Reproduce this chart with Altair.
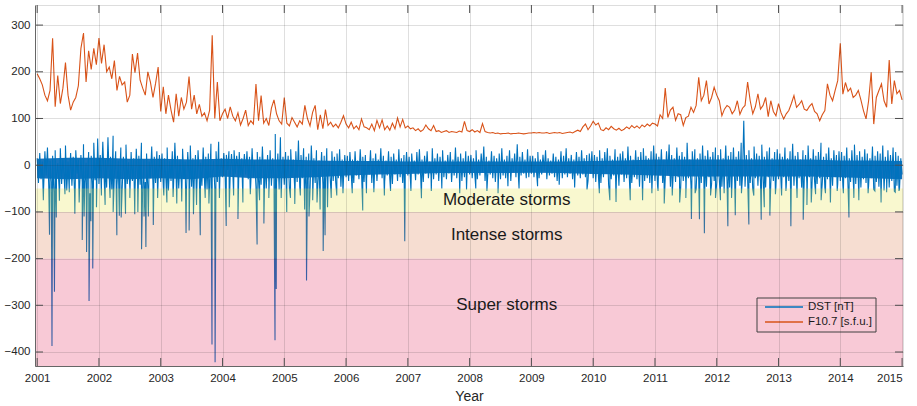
import altair as alt
import pandas as pd

# ---------------- data ----------------
years = list(range(2001, 2015))
year_ticks = list(range(2001, 2016))
y_ticks = [-400, -300, -200, -100, 0, 100, 200, 300]

# F10.7 solar flux, 24 samples per year
f107_2001 = [196, 185, 172, 150, 138, 160, 272, 125, 192, 132, 165, 220, 150, 118, 135, 145, 170, 250, 283, 178, 245, 205, 250, 215]
f107_2002 = [272, 218, 258, 200, 210, 185, 224, 160, 190, 172, 178, 135, 150, 238, 198, 240, 182, 165, 150, 200, 178, 145, 175, 210]
f107_2003 = [115, 168, 110, 150, 118, 92, 153, 105, 145, 120, 135, 190, 120, 150, 110, 130, 105, 112, 95, 118, 278, 100, 178, 95]
f107_2004 = [110, 120, 100, 125, 105, 95, 112, 86, 100, 118, 85, 95, 88, 174, 95, 149, 90, 100, 85, 122, 140, 110, 95, 88]
f107_2005 = [145, 90, 84, 102, 92, 82, 95, 88, 128, 100, 84, 113, 128, 76, 108, 78, 119, 85, 92, 82, 88, 80, 92, 106]
f107_2006 = [88, 80, 92, 78, 84, 76, 99, 82, 80, 76, 88, 74, 96, 80, 97, 76, 84, 75, 90, 78, 101, 82, 98, 80]
f107_2007 = [84, 78, 80, 74, 78, 72, 76, 86, 78, 74, 85, 72, 74, 70, 72, 74, 70, 72, 71, 70, 73, 71, 94, 74]
f107_2008 = [72, 76, 71, 74, 70, 89, 72, 70, 69, 70, 68, 69, 67, 68, 68, 69, 67, 68, 68, 69, 68, 67, 68, 69]
f107_2009 = [69, 70, 69, 70, 69, 69, 70, 68, 69, 70, 69, 70, 68, 69, 70, 71, 69, 72, 75, 72, 82, 88, 76, 84]
f107_2010 = [94, 86, 90, 76, 74, 80, 76, 83, 78, 75, 79, 74, 77, 82, 78, 85, 80, 84, 79, 86, 82, 88, 84, 90]
f107_2011 = [88, 84, 108, 100, 165, 102, 118, 124, 96, 110, 108, 85, 102, 105, 124, 113, 128, 188, 138, 150, 181, 131, 145, 167]
f107_2012 = [150, 138, 106, 120, 128, 124, 110, 118, 138, 109, 122, 128, 178, 138, 110, 125, 153, 120, 128, 145, 104, 138, 115, 106]
f107_2013 = [132, 112, 99, 110, 117, 132, 149, 124, 130, 138, 120, 117, 126, 132, 115, 110, 95, 108, 117, 174, 150, 138, 160, 181]
f107_2014 = [261, 152, 177, 158, 165, 145, 150, 160, 140, 117, 99, 138, 199, 88, 145, 160, 174, 138, 124, 225, 131, 181, 153, 160]
f107_end = 140

# DST index background variation, 48 samples per year
dst_2001 = [15, -38, 26, -30, 8, -52, 30, -22, 38, -44, 10, -36, 20, -58, 32, -26, 4, -46, 36, -40, 15, -28, 42, -54, 8, -34, 26, -44, 18, -56, 32, -18, 12, -48, 22, -36, 45, -40, 5, -30, 28, -60, 20, -42, 48, -32, 12, 57]
dst_2002 = [-40, 22, -34, 50, -26, 12, -48, 60, -28, 18, -52, 63, -22, 30, -44, 10, -36, 38, -56, 18, -30, 44, -40, 6, -50, 28, -34, 15, -58, 35, -26, 20, -42, 48, -46, 12, -36, 25, -54, 8, -28, 40, -44, 18, -38, 30, -32, 22]
dst_2003 = [-36, 25, -46, 15, -28, 38, -54, 10, -34, 30, -42, 48, -26, 20, -50, 12, -38, 35, -30, 8, -56, 28, -24, 42, -46, 15, -36, 22, -58, 32, -26, 5, -44, 38, -34, 18, -52, 25, -40, 46, -28, 10, -48, 30, -36, 50, -24, 15]
dst_2004 = [-26, 26, -16, 22, -10, 30, -20, 24, -14, 32, -18, 20, -8, 28, -22, 15, -14, 24, -20, 30, -30, 18, -38, 36, -26, 10, -46, 28, -34, 18, -42, 40, -28, 12, -50, 22, -36, 32, -44, 15, -30, 67, -38, 25, -52, 60, -34, 18]
dst_2005 = [-42, 28, -30, 20, -50, 34, -26, 12, -44, 30, -36, 53, -46, 22, -28, 36, -52, 18, -34, 25, -56, 42, -24, 15, -38, 32, -46, 10, -30, 28, -42, 20, -36, 36, -26, 8, -44, 30, -34, 18, -38, 25, -28, 34, -46, 12, -30, 22]
dst_2006 = [-26, 20, -34, 28, -18, 12, -38, 30, -22, 10, -30, 34, -16, 18, -36, 22, -28, 8, -20, 32, -38, 15, -26, 25, -34, 12, -18, 36, -28, 20, -36, 10, -22, 30, -30, 18, -40, 25, -20, 12, -34, 34, -26, 15, -38, 22, -18, 28]
dst_2007 = [-22, 18, -30, 25, -15, 10, -32, 28, -20, 34, -26, 12, -36, 20, -18, 30, -28, 8, -22, 36, -30, 15, -20, 25, -34, 18, -15, 32, -26, 10, -30, 22, -18, 28, -36, 12, -22, 38, -28, 18, -20, 25, -34, 15, -26, 30, -18, 20]
dst_2008 = [-20, 22, -28, 15, -18, 32, -30, 12, -22, 25, -15, 40, -34, 18, -26, 10, -20, 30, -28, 20, -36, 15, -18, 25, -30, 36, -22, 12, -28, 20, -20, 32, -34, 15, -15, 25, -26, 45, -30, 18, -22, 28, -18, 12, -28, 34, -26, 20]
dst_2009 = [-18, 20, -26, 15, -15, 28, -28, 12, -20, 22, -12, 32, -30, 15, -22, 10, -18, 25, -26, 18, -34, 12, -15, 30, -28, 20, -20, 36, -26, 15, -18, 22, -30, 12, -15, 28, -22, 18, -28, 32, -20, 15, -26, 22, -34, 25, -18, 30]
dst_2010 = [-28, 22, -36, 18, -20, 32, -38, 15, -26, 28, -18, 36, -42, 20, -30, 12, -22, 34, -34, 18, -44, 25, -20, 30, -36, 15, -28, 40, -22, 20, -38, 12, -26, 32, -30, 18, -46, 28, -22, 36, -34, 20, -28, 15, -38, 30, -26, 42]
dst_2011 = [-34, 25, -44, 18, -22, 34, -38, 12, -28, 30, -20, 44, -46, 22, -30, 15, -36, 38, -26, 20, -48, 28, -34, 18, -38, 48, -28, 12, -44, 30, -22, 34, -52, 15, -30, 25, -38, 42, -28, 20, -46, 32, -26, 18, -40, 28, -34, 38]
dst_2012 = [-38, 22, -30, 34, -46, 15, -26, 42, -36, 20, -48, 28, -28, 38, -40, 18, -34, 30, -44, 48, -26, 95, -46, 22, -30, 32, -38, 15, -52, 40, -28, 25, -44, 20, -36, 44, -30, 18, -48, 30, -26, 38, -40, 15, -34, 28, -46, 34]
dst_2013 = [-30, 25, -40, 18, -26, 38, -46, 15, -34, 30, -22, 46, -44, 20, -36, 28, -28, 12, -48, 32, -30, 22, -38, 42, -26, 15, -46, 34, -34, 20, -40, 28, -28, 48, -38, 18, -48, 25, -30, 38, -36, 15, -44, 32, -26, 22, -40, 30]
dst_2014 = [-34, 28, -44, 20, -28, 38, -46, 15, -36, 32, -26, 44, -40, 22, -34, 30, -48, 18, -30, 34, -38, 25, -44, 15, -28, 40, -52, 20, -36, 30, -46, 25, -30, 42, -54, 18, -38, 32, -48, 22, -34, 38, -56, 28, -44, 20, -52, 15]
dst_end = -20

# densely filled core of the hourly DST trace, every half year 2001.0 .. 2015.0
core_time = [2001.0 + 0.5 * k for k in range(29)]
core_hi = [14, 16, 16, 14, 14, 12, 14, 12, 12, 10, 9, 9, 8, 8, 8, 8, 8, 8, 9, 10, 12, 12, 12, 12, 12, 12, 10, 10, 9]
core_lo = [-28, -30, -28, -30, -28, -30, -24, -28, -28, -26, -22, -20, -19, -17, -17, -17, -16, -17, -19, -20, -22, -24, -24, -24, -24, -24, -26, -28, -30]

# geomagnetic storm minima (decimal year, DST nT)
storm_time = [2001.10, 2001.20, 2001.24, 2001.28, 2001.31, 2001.36, 2001.45, 2001.52, 2001.61, 2001.68,
              2001.73, 2001.76, 2001.80, 2001.84, 2001.87, 2001.90, 2001.96, 2002.04, 2002.10, 2002.18,
              2002.23, 2002.29, 2002.33, 2002.36, 2002.43, 2002.50, 2002.58, 2002.63, 2002.69, 2002.73,
              2002.76, 2002.80, 2002.88, 2002.95, 2003.05, 2003.10, 2003.20, 2003.26, 2003.34, 2003.41,
              2003.46, 2003.53, 2003.58, 2003.64, 2003.72, 2003.78, 2003.83, 2003.88, 2003.95, 2004.06,
              2004.11, 2004.18, 2004.25, 2004.33, 2004.45, 2004.56, 2004.60, 2004.67, 2004.75, 2004.85,
              2004.87, 2004.95, 2005.04, 2005.10, 2005.17, 2005.26, 2005.33, 2005.36, 2005.40, 2005.46,
              2005.53, 2005.58, 2005.63, 2005.66, 2005.70, 2005.76, 2005.85, 2005.95, 2006.10, 2006.27,
              2006.33, 2006.45, 2006.62, 2006.72, 2006.95, 2007.05, 2007.22, 2007.38, 2007.55, 2007.84,
              2007.95, 2008.10, 2008.28, 2008.46, 2008.62, 2008.80, 2009.10, 2009.45, 2009.70, 2009.90,
              2010.10, 2010.27, 2010.37, 2010.60, 2010.80, 2010.95, 2011.05, 2011.15, 2011.28, 2011.40,
              2011.50, 2011.59, 2011.65, 2011.72, 2011.80, 2011.90, 2011.98, 2012.06, 2012.12, 2012.18,
              2012.24, 2012.30, 2012.40, 2012.52, 2012.60, 2012.72, 2012.77, 2012.86, 2012.95, 2013.05,
              2013.12, 2013.20, 2013.30, 2013.40, 2013.46, 2013.53, 2013.60, 2013.69, 2013.76, 2013.84,
              2013.95, 2014.05, 2014.14, 2014.22, 2014.30, 2014.45, 2014.56, 2014.66, 2014.75, 2014.89,
              2014.95]
storm_dst = [-75, -149, -387, -271, -112, -76, -62, -58, -104, -80,
             -160, -110, -186, -291, -120, -221, -90, -65, -85, -70,
             -100, -150, -108, -112, -104, -70, -105, -100, -180, -110,
             -175, -110, -128, -70, -65, -80, -68, -82, -78, -145,
             -140, -105, -85, -150, -70, -82, -384, -422, -70, -130,
             -90, -65, -115, -80, -62, -170, -75, -125, -70, -375,
             -265, -70, -100, -70, -83, -65, -95, -247, -110, -75,
             -80, -95, -184, -150, -90, -70, -65, -60, -60, -97,
             -60, -58, -65, -55, -163, -55, -71, -55, -50, -60,
             -52, -50, -55, -60, -45, -50, -45, -42, -48, -52,
             -60, -75, -79, -75, -75, -60, -55, -82, -65, -80,
             -70, -115, -60, -116, -146, -65, -70, -75, -60, -131,
             -70, -107, -60, -127, -65, -117, -90, -108, -62, -65,
             -55, -131, -70, -117, -85, -80, -62, -75, -60, -80,
             -55, -60, -112, -70, -75, -60, -55, -80, -58, -58,
             -55]

# storm classes
band_names = ["Moderate storms", "Intense storms", "Super storms"]
band_hi = [-50, -100, -200]
band_lo = [-100, -200, -430]
band_colors = ["#E7E33F", "#DB7747", "#E3275B"]
label_value = [-75, -150, -300]
label_year = [2008.6, 2008.6, 2008.6]

series_names = ["DST [nT]", "F10.7 [s.f.u.]"]
series_colors = ["#0072BD", "#D95319"]

# ---------------- tables ----------------
f107_years = [f107_2001, f107_2002, f107_2003, f107_2004, f107_2005, f107_2006, f107_2007,
              f107_2008, f107_2009, f107_2010, f107_2011, f107_2012, f107_2013, f107_2014]
dst_years = [dst_2001, dst_2002, dst_2003, dst_2004, dst_2005, dst_2006, dst_2007,
             dst_2008, dst_2009, dst_2010, dst_2011, dst_2012, dst_2013, dst_2014]

rows = []
for yr, vals in zip(years, f107_years):
    for i, v in enumerate(vals):
        rows.append({"t": yr + i / len(vals), "v": v, "series": series_names[1]})
rows.append({"t": 2015.0, "v": f107_end, "series": series_names[1]})
for yr, vals in zip(years, dst_years):
    for i, v in enumerate(vals):
        rows.append({"t": yr + i / len(vals), "v": v, "series": series_names[0]})
rows.append({"t": 2015.0, "v": dst_end, "series": series_names[0]})
for t, v in zip(storm_time, storm_dst):
    rows.append({"t": t, "v": v, "series": series_names[0]})
lines_df = pd.DataFrame(rows).sort_values(["series", "t"])

core_df = pd.DataFrame({"t": core_time, "hi": core_hi, "lo": core_lo})
bands_df = pd.DataFrame({"name": band_names, "lo": band_lo, "hi": band_hi, "col": band_colors})
labels_df = pd.DataFrame({"name": band_names, "t": label_year, "v": label_value})
xt_df = pd.DataFrame({"t": year_ticks})
yt_df = pd.DataFrame({"v": y_ticks})

# ---------------- chart ----------------
W, H = 868, 361
FONT = "Liberation Sans"
xscale = alt.Scale(domain=[2000.965, 2015.015], nice=False, zero=False)
yscale = alt.Scale(domain=[-430, 343], nice=False, zero=False)
series_scale = alt.Scale(domain=series_names, range=series_colors)

xaxis = alt.Axis(values=year_ticks, format="d", title="Year", ticks=False, labelPadding=6,
                 titlePadding=6, grid=True, gridColor="#262626", gridOpacity=0.15,
                 domainColor="#666666", labelColor="#262626", titleColor="#262626",
                 labelFontSize=11.5, titleFontSize=14, titleFontWeight="normal",
                 labelFont=FONT, titleFont=FONT, zindex=1)
yaxis = alt.Axis(values=y_ticks, title=None, ticks=False, labelPadding=5, grid=True,
                 gridColor="#262626", gridOpacity=0.15, domainColor="#666666",
                 labelColor="#262626", labelFontSize=11.5, labelFont=FONT, zindex=1)

core = alt.Chart(core_df).mark_area(color="#0A6DBA", opacity=0.95, clip=True).encode(
    x=alt.X("t:Q", scale=xscale, axis=xaxis, title="Year"),
    y=alt.Y("hi:Q", scale=yscale, axis=yaxis, title=None),
    y2="lo:Q",
)

lines = alt.Chart(lines_df).mark_line(strokeWidth=1.1, clip=True).encode(
    x=alt.X("t:Q", scale=xscale, title="Year"),
    y=alt.Y("v:Q", scale=yscale, title=None),
    color=alt.Color("series:N", scale=series_scale, legend=None),
    detail="series:N",
)

bands = alt.Chart(bands_df).mark_rect(opacity=0.25, clip=True).encode(
    x=alt.value(0), x2=alt.value(W),
    y=alt.Y("hi:Q", scale=yscale, title=None),
    y2="lo:Q",
    fill=alt.Fill("col:N", scale=None),
)

texts = alt.Chart(labels_df).mark_text(fontSize=17, font=FONT, color="#1a1a1a",
                                       align="center", baseline="middle").encode(
    x=alt.X("t:Q", scale=xscale, title="Year"),
    y=alt.Y("v:Q", scale=yscale, title=None),
    text="name:N",
)

tick_col = "#555555"
xt_bottom = alt.Chart(xt_df).mark_rule(color=tick_col, strokeWidth=1).encode(
    x=alt.X("t:Q", scale=xscale, title="Year"), y=alt.value(H), y2=alt.value(H - 8))
xt_top = alt.Chart(xt_df).mark_rule(color=tick_col, strokeWidth=1).encode(
    x=alt.X("t:Q", scale=xscale, title="Year"), y=alt.value(0), y2=alt.value(8))
yt_left = alt.Chart(yt_df).mark_rule(color=tick_col, strokeWidth=1).encode(
    y=alt.Y("v:Q", scale=yscale, title=None), x=alt.value(0), x2=alt.value(8))
yt_right = alt.Chart(yt_df).mark_rule(color=tick_col, strokeWidth=1).encode(
    y=alt.Y("v:Q", scale=yscale, title=None), x=alt.value(W), x2=alt.value(W - 8))

# legend box (inside the plot, lower right)
legend_df = pd.DataFrame({"series": series_names, "row": [302, 317]})
leg_box = alt.Chart(pd.DataFrame({"k": [0]})).mark_rect(
    fill="#F8C9D6", stroke="#404040", strokeWidth=1).encode(
    x=alt.value(722), x2=alt.value(841), y=alt.value(293), y2=alt.value(327))
leg_lines = alt.Chart(legend_df).mark_rule(strokeWidth=1.5).encode(
    x=alt.value(730), x2=alt.value(768),
    y=alt.Y("row:Q", scale=None, title=None),
    color=alt.Color("series:N", scale=series_scale, legend=None),
)
leg_text = alt.Chart(legend_df).mark_text(align="left", baseline="middle", fontSize=11.5,
                                          font=FONT, color="#1a1a1a").encode(
    x=alt.value(773),
    y=alt.Y("row:Q", scale=None, title=None),
    text="series:N",
)

chart = alt.layer(core, lines, bands, texts, xt_bottom, xt_top, yt_left, yt_right,
                  leg_box, leg_lines, leg_text).properties(
    width=W, height=H,
    autosize=alt.AutoSizeParams(type="none"),
    padding={"left": 35, "top": 5, "right": 14, "bottom": 40},
).configure_view(stroke="#666666", strokeWidth=1).configure(background="white")

chart.save("out.html", embed_options={"renderer": "svg", "actions": False})
